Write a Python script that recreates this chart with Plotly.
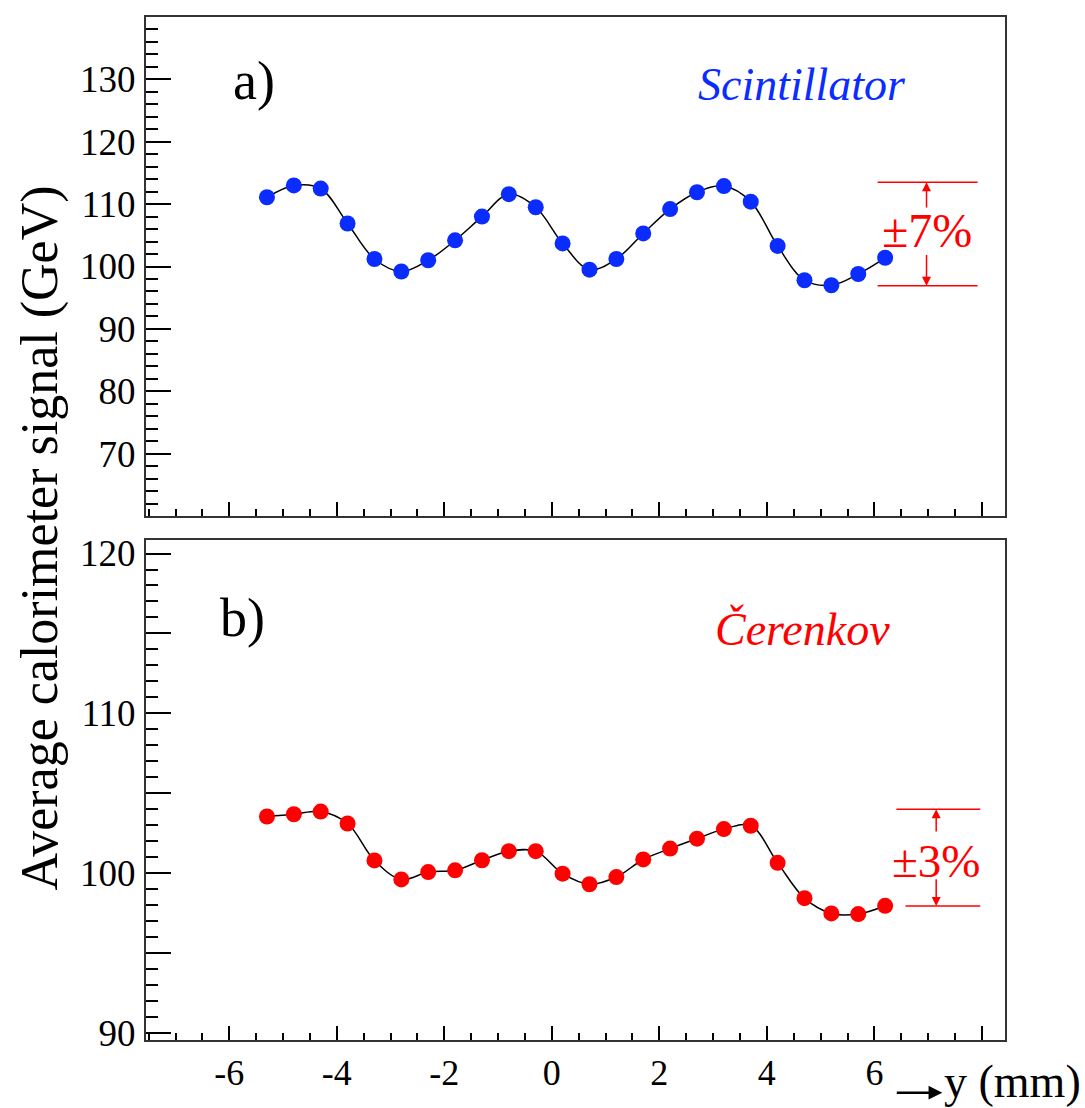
import plotly.graph_objects as go

# ---- data ----
y_pos_mm = [-5.3, -4.8, -4.3, -3.8, -3.3, -2.8, -2.3, -1.8, -1.3, -0.8, -0.3, 0.2,
            0.7, 1.2, 1.7, 2.2, 2.7, 3.2, 3.7, 4.2, 4.7, 5.2, 5.7, 6.2]
scint_signal = [111.1, 113.0, 112.5, 106.9, 101.2, 99.2, 101.0, 104.2, 108.0, 111.6, 109.5, 103.7,
                99.5, 101.2, 105.3, 109.2, 111.9, 112.9, 110.4, 103.3, 97.8, 97.0, 98.8, 101.4]
cher_signal = [103.54, 103.68, 103.85, 103.1, 100.79, 99.6, 100.06, 100.17, 100.8, 101.37, 101.37, 99.96,
               99.3, 99.75, 100.85, 101.53, 102.15, 102.75, 102.96, 100.64, 98.43, 97.47, 97.43, 97.95]

x_ticks = [-6, -4, -2, 0, 2, 4, 6, 8]
x_ticktext = ["-6", "-4", "-2", "0", "2", "4", "6", ""]
top_yticks = [70, 80, 90, 100, 110, 120, 130]
bot_yticks = [90, 95, 100, 105, 110, 115, 120]
bot_ytext = ["90", "", "100", "", "110", "", "120"]

band_a = (96.9, 113.5)   # ±7% band
band_b = (97.93, 104.0)  # ±3% band

BLUE = "#0a2cff"
RED = "#ff0000"
FONT = "Liberation Serif, 'Times New Roman', 'DejaVu Serif', serif"

fig = go.Figure()

fig.add_trace(go.Scatter(
    x=y_pos_mm, y=scint_signal, mode="lines+markers",
    line=dict(color="black", width=1.5, shape="spline", smoothing=1.0),
    marker=dict(color=BLUE, size=16, line=dict(width=0)),
    xaxis="x", yaxis="y", showlegend=False, hoverinfo="skip"))

fig.add_trace(go.Scatter(
    x=y_pos_mm, y=cher_signal, mode="lines+markers",
    line=dict(color="black", width=1.5, shape="spline", smoothing=1.0),
    marker=dict(color=RED, size=16, line=dict(width=0)),
    xaxis="x2", yaxis="y2", showlegend=False, hoverinfo="skip"))

XR = [-7.55, 8.43]
frame = dict(showline=True, linecolor="#333333", linewidth=2, mirror=True,
             showgrid=False, zeroline=False)

fig.update_layout(
    width=1085, height=1108,
    margin=dict(l=146, r=80, t=10, b=68),
    paper_bgcolor="white", plot_bgcolor="white",
    font=dict(family=FONT, color="black", size=36),
    xaxis=dict(domain=[0, 1], range=XR, anchor="y", tickvals=x_ticks,
               showticklabels=False, ticks="inside", ticklen=14, tickwidth=1.5,
               tickcolor="black",
               minor=dict(dtick=0.5, tick0=0, ticks="inside", ticklen=7,
                          tickwidth=1.5, tickcolor="black"),
               **frame),
    yaxis=dict(domain=[0.5122, 1.0], range=[60, 140], anchor="x",
               tickvals=top_yticks, ticks="inside", ticklen=25, tickwidth=1.5,
               tickcolor="black", tickfont=dict(size=37, family=FONT),
               ticklabelstandoff=1,
               minor=dict(dtick=2, tick0=0, ticks="inside", ticklen=12,
                          tickwidth=1.5, tickcolor="black"),
               **frame),
    xaxis2=dict(domain=[0, 1], range=XR, anchor="y2", tickvals=x_ticks,
                ticktext=x_ticktext, ticks="inside", ticklen=14, tickwidth=1.5,
                tickcolor="black", tickfont=dict(size=36, family=FONT),
                ticklabelstandoff=0,
                minor=dict(dtick=0.5, tick0=0, ticks="inside", ticklen=7,
                           tickwidth=1.5, tickcolor="black"),
                **frame),
    yaxis2=dict(domain=[0, 0.4885], range=[89.55, 120.83], anchor="x2",
                tickvals=bot_yticks, ticktext=bot_ytext, ticks="inside",
                ticklen=25, tickwidth=1.5, tickcolor="black",
                tickfont=dict(size=37, family=FONT), ticklabelstandoff=1,
                minor=dict(dtick=1, tick0=0, ticks="inside", ticklen=12,
                           tickwidth=1.5, tickcolor="black"),
                **frame),
)

# band lines
shapes = []
for yv in band_a:
    shapes.append(dict(type="line", xref="x", yref="y", x0=6.06, x1=7.92, y0=yv, y1=yv,
                       line=dict(color=RED, width=1.5)))
shapes.append(dict(type="line", xref="x2", yref="y2", x0=6.41, x1=7.97, y0=band_b[1], y1=band_b[1],
                   line=dict(color=RED, width=1.5)))
shapes.append(dict(type="line", xref="x2", yref="y2", x0=6.58, x1=7.97, y0=band_b[0], y1=band_b[0],
                   line=dict(color=RED, width=1.5)))
fig.update_layout(shapes=shapes)

ann = []
# arrows (±7%)
ann.append(dict(xref="x", yref="y", axref="x", ayref="y", x=6.97, y=band_a[1], ax=6.97, ay=109.2,
                text="", showarrow=True, arrowhead=2, arrowsize=1.2, arrowwidth=1.5, arrowcolor=RED))
ann.append(dict(xref="x", yref="y", axref="x", ayref="y", x=6.97, y=band_a[0], ax=6.97, ay=102.1,
                text="", showarrow=True, arrowhead=2, arrowsize=1.2, arrowwidth=1.5, arrowcolor=RED))
ann.append(dict(xref="x", yref="y", x=6.97, y=105.7, text="±7%", showarrow=False,
                font=dict(size=48, color=RED, family=FONT), xanchor="center", yanchor="middle"))
# arrows (±3%)
ann.append(dict(xref="x2", yref="y2", axref="x2", ayref="y2", x=7.15, y=band_b[1], ax=7.15, ay=102.5,
                text="", showarrow=True, arrowhead=2, arrowsize=1.2, arrowwidth=1.5, arrowcolor=RED))
ann.append(dict(xref="x2", yref="y2", axref="x2", ayref="y2", x=7.15, y=band_b[0], ax=7.15, ay=99.7,
                text="", showarrow=True, arrowhead=2, arrowsize=1.2, arrowwidth=1.5, arrowcolor=RED))
ann.append(dict(xref="x2", yref="y2", x=7.15, y=100.75, text="±3%", showarrow=False,
                font=dict(size=47, color=RED, family=FONT), xanchor="center", yanchor="middle"))

# panel labels
ann.append(dict(xref="paper", yref="paper", x=0.1257, y=0.937, text="a)", showarrow=False,
                font=dict(size=54, family=FONT), xanchor="center", yanchor="middle"))
ann.append(dict(xref="paper", yref="paper", x=0.1118, y=0.413, text="b)", showarrow=False,
                font=dict(size=54, family=FONT), xanchor="center", yanchor="middle"))
ann.append(dict(xref="paper", yref="paper", x=0.764, y=0.934, text="Scintillator",
                showarrow=False, font=dict(size=46, color=BLUE, family=FONT, style="italic"),
                xanchor="center", yanchor="middle"))
ann.append(dict(xref="paper", yref="paper", x=0.764, y=0.401, text="Čerenkov",
                showarrow=False, font=dict(size=46, color=RED, family=FONT, style="italic"),
                xanchor="center", yanchor="middle"))
# axis titles
ann.append(dict(xref="paper", yref="paper", x=-0.1234, y=0.4912,
                text="Average calorimeter signal (GeV)", textangle=-90, showarrow=False,
                font=dict(size=52, family=FONT), xanchor="center", yanchor="middle"))
# x-axis title with long arrow
ann.append(dict(xref="paper", yref="paper", axref="pixel", ayref="pixel",
                x=0.927, y=-0.0515, ax=-47, ay=0, text="", showarrow=True,
                arrowhead=2, arrowsize=1.1, arrowwidth=2.5, arrowcolor="black"))
ann.append(dict(xref="paper", yref="paper", x=1.0896, y=-0.0665, text="y (mm)",
                showarrow=False, font=dict(size=46, family=FONT),
                xanchor="right", yanchor="bottom", borderpad=0))
fig.update_layout(annotations=ann)

fig.write_html("out.html")
